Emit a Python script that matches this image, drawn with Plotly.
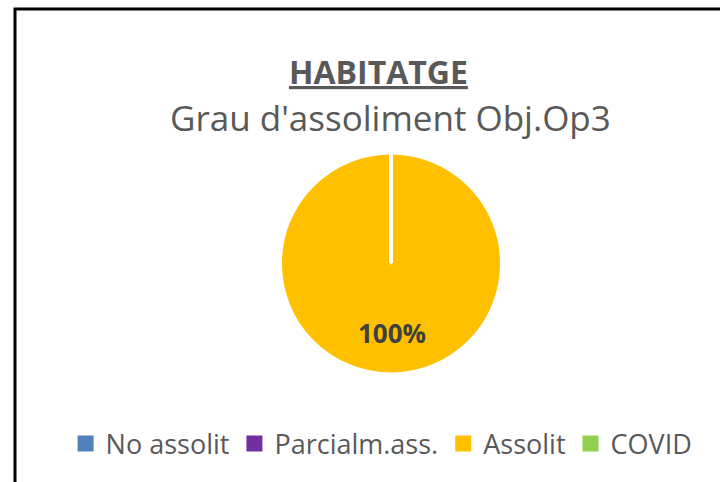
import plotly.graph_objects as go

categories = ["No assolit", "Parcialm.ass.", "Assolit", "COVID"]
values = [0, 0, 1, 0]
colors = ["#4F81BD", "#7030A0", "#FFC000", "#92D050"]

W, H = 720, 482

def px_x(x):
    return x / W

def px_y(y):
    return 1 - y / H

total = sum(values)
pct = [v / total * 100 for v in values]

fig = go.Figure()
fig.add_trace(go.Pie(
    labels=categories,
    values=values,
    marker=dict(colors=colors, line=dict(color="white", width=2)),
    sort=False,
    direction="clockwise",
    rotation=0,
    textinfo="none",
    hoverinfo="label+percent",
    domain=dict(x=[px_x(281), px_x(501)], y=[px_y(374), px_y(153)]),
    showlegend=False,
))

# legend entries with square swatches like the original
for c, col in zip(categories, colors):
    fig.add_trace(go.Scatter(x=[None], y=[None], mode="markers", name=c,
                             marker=dict(symbol="square", size=16, color=col),
                             showlegend=True))

# slice border at the start of the single full slice
fig.add_shape(type="line", xref="paper", yref="paper",
              x0=px_x(391), x1=px_x(391), y0=px_y(263), y1=px_y(153),
              line=dict(color="white", width=4))

for c, p in zip(categories, pct):
    if p > 0:
        fig.add_annotation(text=f"<b>{p:.0f}%</b>", xref="paper", yref="paper",
                           x=px_x(392), y=px_y(333), yanchor="middle",
                           showarrow=False,
                           font=dict(size=26, color="#404040"))

fig.add_annotation(text="<b><u>HABITATGE</u></b>", xref="paper", yref="paper",
                   x=px_x(378), y=px_y(71), yanchor="middle", showarrow=False,
                   font=dict(size=32, color="#595959"))
fig.add_annotation(text="Grau d'assoliment Obj.Op3", xref="paper", yref="paper",
                   x=px_x(391), y=px_y(117), yanchor="middle", showarrow=False,
                   font=dict(size=35, color="#595959"))

# chart frame
fig.add_shape(type="rect", xref="paper", yref="paper",
              x0=px_x(15), x1=px_x(760), y0=px_y(520), y1=px_y(9),
              line=dict(color="black", width=3))

fig.update_layout(
    width=W, height=H,
    margin=dict(l=0, r=0, t=0, b=0),
    paper_bgcolor="white",
    plot_bgcolor="white",
    xaxis=dict(visible=False),
    yaxis=dict(visible=False),
    font=dict(family="Open Sans, Calibri, sans-serif", color="#595959"),
    legend=dict(orientation="h", x=0.53, xanchor="center",
                y=px_y(444), yanchor="middle",
                font=dict(size=27, color="#595959"),
                itemwidth=30, traceorder="normal"),
)

fig.write_html("out.html", config={"displayModeBar": False},
               post_script="document.body.style.margin='0';")
